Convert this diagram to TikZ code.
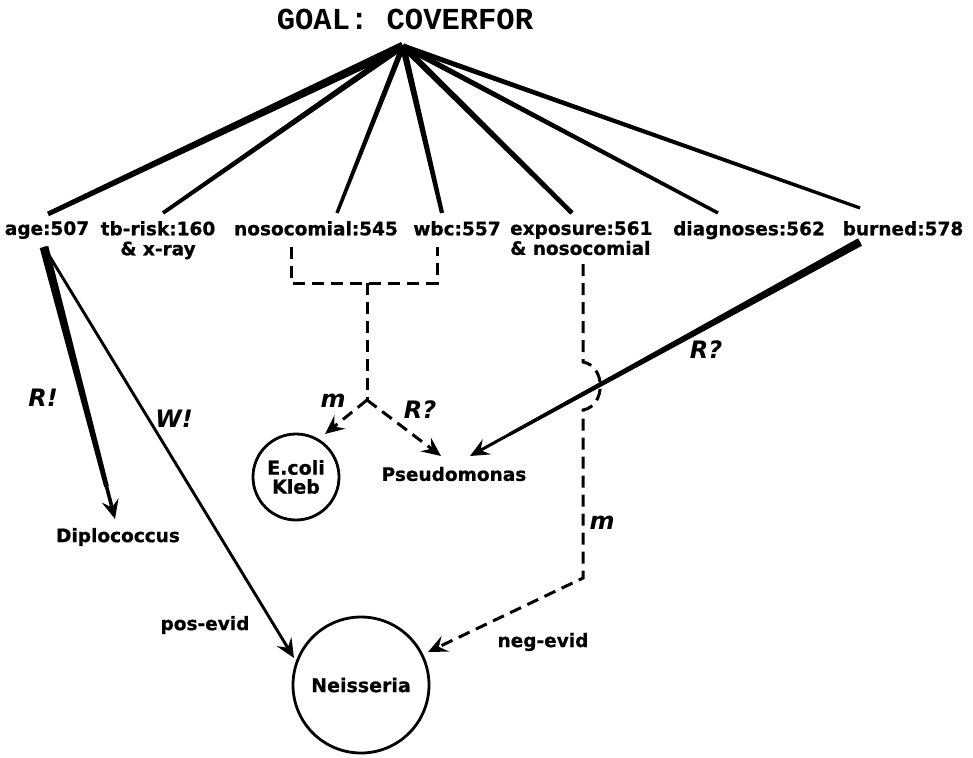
\documentclass[tikz,border=0pt]{standalone}
\usepackage{fontspec}
\setmainfont{DejaVu Sans}[BoldFeatures={FakeBold=0.8}]
\newfontfamily\titlefont{Liberation Mono}
\usetikzlibrary{arrows.meta,calc}
% tapered solid stroke from #1 to #2, half widths #3 and #4
\newcommand{\taperline}[4]{\fill ($(#1)!#3!90:(#2)$) -- ($(#1)!#3!-90:(#2)$) -- ($(#2)!#4!90:(#1)$) -- ($(#2)!#4!-90:(#1)$) -- cycle;}
\begin{document}
\begin{tikzpicture}[x=1pt,y=-1pt,
  lbl/.style={font=\fontsize{18.5}{20}\selectfont\bfseries, inner sep=0pt},
  ital/.style={font=\fontsize{24}{26}\selectfont\bfseries\itshape, inner sep=0pt},
  dsh/.style={dash pattern=on 12pt off 7pt, line width=3pt},
  arr/.style={-{Stealth[length=19pt,width=17pt,inset=7pt]}},
  circ/.style={circle, draw, line width=2.8pt, inner sep=0pt, align=center, font=\fontsize{19}{22}\selectfont\bfseries},
]
\useasboundingbox (0,0) rectangle (973,757);

% title and apex
\node[font=\titlefont\fontsize{30.5}{32}\selectfont\bfseries, inner sep=0pt] (goal) at (405,19) {GOAL: COVERFOR};
\coordinate (apex) at (403,46);

% attribute labels
\node[lbl, anchor=north] (age) at (47,221) {age:507};
\node[lbl, anchor=north, align=center] (tb) at (158,221) {tb-risk:160\\\& x-ray};
\node[lbl, anchor=north] (noso) at (316,221) {nosocomial:545};
\node[lbl, anchor=north] (wbc) at (457,221) {wbc:557};
\node[lbl, anchor=north west, align=left] (expo) at (510,221) {exposure:561\\\& nosocomial};
\node[lbl, anchor=north] (diag) at (749,221) {diagnoses:562};
\node[lbl, anchor=north] (burn) at (903,221) {burned:578};

% fan line ends
\coordinate (ageIn) at (48,214);
\coordinate (tbIn) at (163,213);
\coordinate (nosoIn) at (337,213);
\coordinate (wbcIn) at (442,213);
\coordinate (expoIn) at (572,213);
\coordinate (diagIn) at (718,213);
\coordinate (burnIn) at (860,208);

\taperline{apex}{ageIn}{4.4pt}{2.4pt}
\taperline{apex}{tbIn}{3.2pt}{1.9pt}
\taperline{apex}{nosoIn}{2.8pt}{1.7pt}
\taperline{apex}{wbcIn}{3.2pt}{2.1pt}
\taperline{apex}{expoIn}{3.2pt}{2.3pt}
\taperline{apex}{diagIn}{2.8pt}{1.7pt}
\taperline{apex}{burnIn}{2.6pt}{1.6pt}

% organism nodes
\node[circ, minimum size=86pt] (ecoli) at (296,477) {E.coli\\[-3pt]Kleb};
\node[lbl] (pseudo) at (454,474) {Pseudomonas};
\node[lbl] (diplo) at (118,537) {Diplococcus};
\node[circ, minimum size=136pt] (neis) at (361,685) {Neisseria};

% dashed combination of nosocomial and wbc
\coordinate (nosoD) at (291,247);
\coordinate (wbcD) at (437,247);
\coordinate (nosoC) at (291,283);
\coordinate (wbcC) at (437,283);
\coordinate (joinT) at (367,283);
\coordinate (branch) at (367,400);
\coordinate (ecoliTip) at (325,434);
\coordinate (pseudoTip) at (441,456);
\draw[dsh] (nosoD) -- (nosoC) -- (wbcC) -- (wbcD);
\draw[dsh] (joinT) -- (branch);
\draw[dsh, arr] (branch) -- (ecoliTip);
\draw[dsh, arr] (branch) -- (pseudoTip);

% burned -> Pseudomonas
\coordinate (burnOut) at (860,242);
\coordinate (pseudoTipB) at (470,456);
\coordinate (burnMid) at ($(burnOut)!0.9!(pseudoTipB)$);
\taperline{burnOut}{burnMid}{4.2pt}{1.6pt}
\draw[line width=3pt, arr] (burnOut) -- (pseudoTipB);

% exposure dashed line with jump
\coordinate (expoD) at (583,264);
\coordinate (jumpA) at (583,362);
\coordinate (jumpB) at (583,410);
\coordinate (expoC) at (583,578);
\coordinate (neisTipE) at (428,652);
\draw[dsh, arr] (expoD) -- (jumpA) .. controls (606,366) and (606,406) .. (jumpB) -- (expoC) -- (neisTipE);

% age -> Diplococcus and Neisseria
\coordinate (ageOut) at (44,247);
\coordinate (diploTip) at (115,519);
\coordinate (neisTip) at (294,658);
\coordinate (diploMid) at ($(ageOut)!0.88!(diploTip)$);
\taperline{ageOut}{diploMid}{4.4pt}{2.4pt}
\draw[line width=3.6pt, arr] (ageOut) -- (diploTip);
\draw[line width=2.9pt, arr] (ageOut) -- (neisTip);

% edge labels
\node[ital] (lR1) at (43,398) {R!};
\node[ital] (lW1) at (174,419) {W!};
\node[ital] (lm1) at (333,401) {m};
\node[ital] (lR2) at (420,410) {R?};
\node[ital] (lR3) at (706,350) {R?};
\node[ital] (lm2) at (602,523) {m};
\node[lbl] (pos) at (205,625) {pos-evid};
\node[lbl] (neg) at (543,642) {neg-evid};
\end{tikzpicture}
\end{document}
